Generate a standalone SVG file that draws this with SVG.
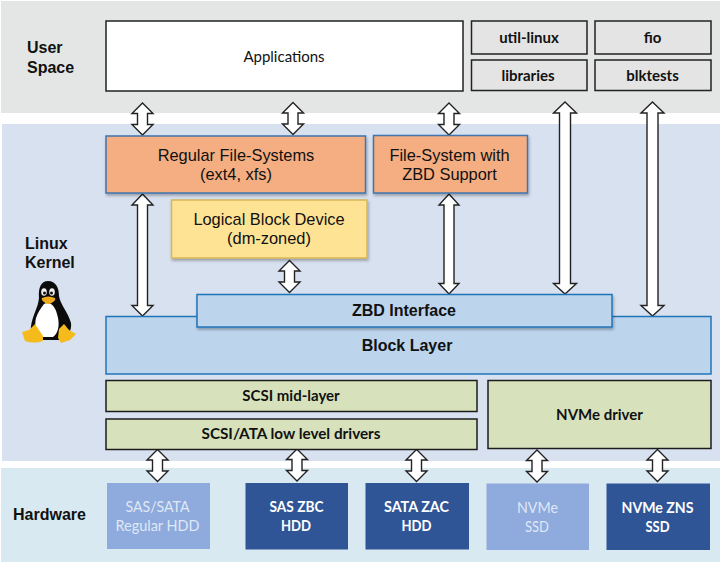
<svg xmlns="http://www.w3.org/2000/svg" width="720" height="562" viewBox="0 0 720 562">
<style>
text{text-anchor:middle;fill:#111}
.a{font-family:"Liberation Sans",Arial,sans-serif;font-size:16.400px}
.ab{font-family:"Liberation Sans",Arial,sans-serif;font-size:16px;font-weight:700}
.l{font-family:Lato,"Open Sans",sans-serif;font-size:15px;font-weight:700}
.lr{font-family:Lato,"Open Sans",sans-serif;font-size:15px}
.side{font-family:"Liberation Sans",Arial,sans-serif;font-size:16px;font-weight:700;text-anchor:start}
.k{stroke:#222;stroke-width:1.5}
.o{fill:#f4ae81;stroke:#3f74ad;stroke-width:1.5;filter:url(#s)}
.b{fill:#bcd5ed;stroke:#1f74b8;stroke-width:1.5}
.g{fill:#d7e2bd;stroke:#1c1c1c;stroke-width:1.5}
.d{fill:#2f5597}.m{fill:#8faadc}
.w{fill:#fff;font-weight:700}.p{fill:#dfe8f6;font-weight:400}
.ar{fill:#fff;stroke:#222;stroke-width:1.4;stroke-linejoin:miter}
</style>
<defs>
<filter id="s" x="-5%" y="-10%" width="110%" height="125%"><feDropShadow dx="1" dy="2" stdDeviation="1.5" flood-color="#000" flood-opacity=".3"/></filter>
<path id="dbl" d="M0-16L10.500-5.500H5V5.500H10.500L0 16L-10.500 5.500H-5V-5.500H-10.500Z"/>
</defs>
<g id="bands">
<rect x="1" y="1" width="719" height="112" fill="#e4e6e5"/>
<rect x="2" y="124" width="718" height="337" fill="#d8e1f0"/>
<rect x="1" y="468" width="719" height="94" fill="#d9e9f1"/>
</g>
<g id="band-labels">
<text class="side" x="27" y="53">User</text><text class="side" x="27" y="73">Space</text>
<text class="side" x="25" y="249">Linux</text><text class="side" x="25" y="268">Kernel</text>
<text class="side" x="13" y="520">Hardware</text>
</g>
<g id="tux">
<path d="M48 281C56 281 59 288 59 296C60 304 68 312 71 323C72 330 68 338 60 340H38C33 338 30 332 31 326C33 314 38 308 39 298C38 288 41 281 48 281Z" fill="#0b0b0b"/>
<path d="M44 304C50 301 55 306 57 314C60 323 59 333 53 337H42C36 334 34 326 36 318C38 312 41 308 44 304Z" fill="#fff"/>
<ellipse cx="44" cy="292" rx="2.800" ry="3.800" fill="#eee"/><ellipse cx="52" cy="292" rx="2.800" ry="3.800" fill="#eee"/>
<circle cx="44.500" cy="293" r="1.500" fill="#111"/><circle cx="51.500" cy="293" r="1.500" fill="#111"/>
<path d="M42 298Q48 295 55 298Q56 300 53 302Q48 306 44 302Q41 300 42 298Z" fill="#eeaa1c"/>
<path d="M35 324L43 336L43 341Q34 344 25 341L22 332L29 330Z" fill="#f5bb1c"/>
<path d="M64 324L69 330L76 334L70 340L61 343L58 338L59 329Z" fill="#f5bb1c"/>
</g>
<g id="connectors">
<use href="#dbl" class="ar" x="142.500" y="119"/>
<use href="#dbl" class="ar" x="293" y="118.500"/>
<use href="#dbl" class="ar" x="449" y="119"/>
<path class="ar" d="M142.500 194L153 205H147.500V305.500H153L142.500 316L132 305.500H137.500V205H132Z"/>
<path class="ar" d="M449 194L459 205H454V283.500H459L449 294L439 283.500H444V205H439Z"/>
<use href="#dbl" class="ar" x="289.500" y="276.500"/>
<path class="ar" d="M565 102L576.500 113H570.500V283.500H576.500L565 294L553.500 283.500H559.500V113H553.500Z"/>
<path class="ar" d="M652.500 102L664 113H658V305.500H664L652.500 316L641 305.500H647V113H641Z"/>
<use href="#dbl" class="ar" x="157.500" y="465.500"/>
<use href="#dbl" class="ar" x="297" y="465"/>
<use href="#dbl" class="ar" x="416.500" y="465.500"/>
<use href="#dbl" class="ar" x="537" y="466"/>
<use href="#dbl" class="ar" x="657.500" y="465.500"/>
</g>
<g id="applications"><rect class="k" x="106" y="21" width="357" height="70" fill="#fff"/><text class="lr" x="284" y="62">Applications</text></g>
<g id="util-linux"><rect class="k" x="471.500" y="21" width="115.500" height="33" fill="#e4e4e4"/><text class="l" x="529" y="43">util-linux</text></g>
<g id="libraries"><rect class="k" x="471.500" y="60" width="115.500" height="30.500" fill="#e4e4e4"/><text class="l" x="528" y="81">libraries</text></g>
<g id="fio"><rect class="k" x="595" y="21" width="116" height="33" fill="#e4e4e4"/><text class="l" x="652.500" y="43">fio</text></g>
<g id="blktests"><rect class="k" x="595" y="60" width="116" height="30.500" fill="#e4e4e4"/><text class="l" x="652.500" y="81">blktests</text></g>
<g id="regular-fs"><rect class="o" x="106" y="136" width="259.500" height="57"/><text class="a" x="236" y="161">Regular File-Systems</text><text class="a" x="236" y="180">(ext4, xfs)</text></g>
<g id="zbd-fs"><rect class="o" x="373.500" y="135.500" width="154" height="57.500"/><text class="a" x="449.500" y="160.500">File-System with</text><text class="a" x="449.500" y="179.500">ZBD Support</text></g>
<g id="dm-zoned"><rect x="171.500" y="200" width="195.500" height="58" fill="#ffe395" stroke="#d6b656" stroke-width="1.500" filter="url(#s)"/><text class="a" x="269" y="225">Logical Block Device</text><text class="a" x="269" y="244">(dm-zoned)</text></g>
<g id="block-layer"><rect class="b" x="106" y="316.500" width="605" height="57.500"/><text class="ab" x="407" y="350.500">Block Layer</text></g>
<g id="zbd-interface"><rect class="b" x="197" y="294.500" width="415" height="32.500" filter="url(#s)"/><text class="ab" x="404" y="315.500">ZBD Interface</text></g>
<g id="scsi-mid"><rect class="g" x="106" y="380.500" width="371" height="31"/><text class="l" x="291" y="401">SCSI mid-layer</text></g>
<g id="scsi-low"><rect class="g" x="106" y="419" width="371" height="30.500"/><text class="l" x="291" y="439" textLength="179" lengthAdjust="spacingAndGlyphs">SCSI/ATA low level drivers</text></g>
<g id="nvme-driver"><rect class="g" x="488" y="380.500" width="223" height="68"/><text class="l" x="599.500" y="420">NVMe driver</text></g>
<g id="hdd-regular"><rect class="m" x="107" y="483" width="103" height="66"/><text class="l p" x="157.500" y="512" textLength="64" lengthAdjust="spacingAndGlyphs">SAS/SATA</text><text class="l p" x="157.500" y="531" textLength="84" lengthAdjust="spacingAndGlyphs">Regular HDD</text></g>
<g id="hdd-zbc"><rect class="d" x="245.500" y="483" width="102.500" height="66.500"/><text class="l w" x="296.500" y="512" textLength="54" lengthAdjust="spacingAndGlyphs">SAS ZBC</text><text class="l w" x="296" y="531" textLength="30" lengthAdjust="spacingAndGlyphs">HDD</text></g>
<g id="hdd-zac"><rect class="d" x="365.500" y="483" width="103.500" height="66.500"/><text class="l w" x="416.500" y="512" textLength="65" lengthAdjust="spacingAndGlyphs">SATA ZAC</text><text class="l w" x="416.500" y="531" textLength="30" lengthAdjust="spacingAndGlyphs">HDD</text></g>
<g id="ssd-nvme"><rect class="m" x="486.500" y="483.500" width="102.500" height="66.500"/><text class="l p" x="537.500" y="513" textLength="41" lengthAdjust="spacingAndGlyphs">NVMe</text><text class="l p" x="537" y="532" textLength="24" lengthAdjust="spacingAndGlyphs">SSD</text></g>
<g id="ssd-zns"><rect class="d" x="606.500" y="483.500" width="103.500" height="66.500"/><text class="l w" x="657.500" y="513" textLength="72" lengthAdjust="spacingAndGlyphs">NVMe ZNS</text><text class="l w" x="657.500" y="532" textLength="24" lengthAdjust="spacingAndGlyphs">SSD</text></g>
</svg>
